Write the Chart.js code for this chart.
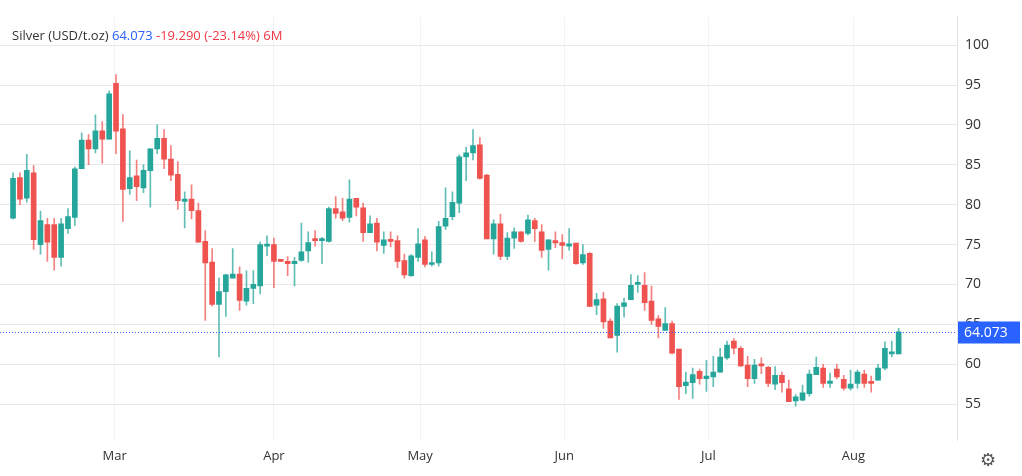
<!DOCTYPE html>
<html>
<head>
<meta charset="utf-8">
<script src="https://cdn.jsdelivr.net/npm/chart.js@4"></script>
<style>
  html, body { margin: 0; padding: 0; background: #fff; }
  #wrap { position: relative; width: 1022px; height: 476px; }
  #title { position: absolute; left: 12px; top: 26px; font: 13px "Open Sans", sans-serif; color: #333; }
  #title .up { color: #2962ff; }
  #title .dn { color: #f23645; }
  #gear { position: absolute; left: 980px; top: 449px; font: 18px "DejaVu Sans"; color: #555; }
</style>
</head>
<body>
<div id="wrap">
  <canvas id="chart" width="1022" height="476"></canvas>
  <div id="title">Silver (USD/t.oz) <span class="up">64.073</span> <span class="dn">-19.290 (-23.14%) 6M</span></div>
  <div id="gear">⚙</div>
</div>
<script>
// candles (open, high, low, close)
const opens = [78.3,83.4,80.8,84.0,75.0,77.5,77.5,73.4,77.0,78.4,84.5,88.1,87.0,89.25,88.2,95.2,89.5,82.0,83.6,82.1,
  84.25,87.0,88.3,85.7,83.8,80.4,80.7,79.25,75.4,72.8,67.5,69.1,70.8,71.3,67.9,69.5,69.8,74.8,75.0,73.0,
  72.9,72.6,73.0,74.2,75.7,75.5,75.4,79.5,79.1,78.4,80.8,79.6,76.5,77.7,74.9,75.5,75.5,73.0,71.1,73.4,
  75.6,72.5,72.7,77.3,78.5,80.2,86.0,86.5,87.5,83.7,75.7,77.6,73.5,75.8,76.6,76.4,78.0,76.6,74.4,75.5,
  75.25,74.8,75.2,72.7,73.9,67.4,68.2,65.4,63.6,67.25,68.1,70.0,69.9,67.9,65.7,64.25,65.1,61.9,57.3,57.7,
  59.1,58.2,58.4,59.0,60.8,62.9,62.0,59.9,58.2,59.9,59.6,57.5,58.6,56.9,55.4,55.5,56.3,58.7,59.5,57.6,
  59.4,58.1,57.0,57.6,58.75,57.7,58.0,59.5,61.3,61.3];
const highs = [84.0,84.0,86.3,84.9,79.2,78.3,78.3,78.3,79.5,84.7,89.0,88.8,91.25,90.4,94.25,96.3,91.3,86.75,85.6,85.0,
  87.0,90.0,89.4,87.4,85.4,81.6,82.5,80.2,76.75,74.5,70.8,71.3,74.5,72.2,71.7,71.75,75.3,76.1,75.8,73.0,
  73.5,73.4,77.7,76.6,76.75,75.9,79.7,81.0,80.8,83.1,80.8,80.2,78.6,78.3,76.6,76.6,76.1,73.8,73.75,77.0,
  76.0,74.1,77.9,82.1,81.6,86.25,87.2,89.4,88.4,83.8,78.1,78.8,76.5,77.1,76.6,78.7,78.3,77.5,75.6,76.6,
  76.25,77.0,75.2,75.0,74.0,68.9,69.0,65.7,67.6,68.3,71.25,71.1,71.5,69.8,66.1,67.1,65.4,61.9,59.0,59.5,
  59.4,60.5,61.0,62.0,62.9,63.2,62.2,61.0,60.6,60.8,59.75,59.7,59.0,58.0,56.2,57.4,59.25,60.9,60.0,58.9,
  60.0,58.6,59.25,59.25,59.25,58.5,60.0,62.8,62.9,64.5];
const lows = [78.2,80.0,80.3,74.4,73.8,72.9,71.8,72.3,76.4,77.4,84.5,85.0,86.5,85.2,88.2,86.4,77.9,81.3,80.5,81.5,
  79.7,86.4,84.5,83.0,79.4,77.1,78.2,75.3,65.5,67.3,60.9,66.0,70.8,66.75,67.4,67.6,68.8,73.6,69.6,72.9,
  71.1,69.8,72.9,72.8,74.8,72.6,75.3,78.3,78.0,77.8,78.6,75.4,76.5,74.2,73.9,74.7,72.1,70.8,71.0,72.9,
  72.2,72.3,72.3,76.9,78.1,79.0,83.0,85.6,83.2,75.7,73.8,73.1,73.1,74.5,75.3,76.2,75.4,73.4,71.8,74.6,
  73.2,74.3,72.5,72.5,67.25,66.2,64.5,63.3,61.5,65.9,68.1,69.0,66.75,65.0,63.3,64.25,61.3,55.6,56.3,55.7,
  57.5,56.6,57.2,59.0,60.6,61.3,59.7,57.2,57.6,58.8,57.2,56.8,56.5,55.3,54.75,55.4,56.0,58.7,57.1,57.1,
  58.2,56.75,56.75,57.0,57.1,56.5,58.0,59.3,60.9,61.3];
const closes = [83.3,80.7,84.3,75.6,78.0,75.3,73.4,77.6,78.5,84.5,88.1,87.0,89.25,88.2,93.9,89.2,81.9,83.4,82.25,84.3,
  87.0,88.3,85.7,83.7,80.5,80.7,79.25,75.3,72.7,67.5,69.1,71.2,71.3,68.0,69.5,70.0,75.0,75.0,72.9,72.9,
  72.6,72.9,74.1,75.25,75.5,75.5,79.5,78.9,78.3,80.7,79.7,76.5,77.6,75.3,75.6,75.4,72.9,71.2,73.6,75.1,
  72.5,72.75,77.25,78.3,80.3,86.0,86.5,87.4,83.3,75.7,77.6,73.5,75.8,76.6,75.4,78.1,77.0,74.25,75.6,75.2,
  74.9,75.1,72.6,73.75,67.25,68.1,65.3,63.3,67.3,67.7,69.9,70.05,67.7,65.5,64.75,65.1,61.4,57.2,57.75,58.7,
  58.2,58.5,59.0,60.9,62.4,62.0,59.8,58.2,59.9,59.8,57.6,58.6,57.7,55.3,55.9,56.4,58.75,59.6,57.6,57.9,
  58.4,57.0,57.5,59.0,57.6,57.6,59.5,62.0,61.5,64.073];
const lastPrice = 64.073;

// x axis: month labels at candle-index positions
const monthLabels = ['Mar', 'Apr', 'May', 'Jun', 'Jul', 'Aug'];
const monthPositions = [14.8, 38, 59.3, 80.3, 101.3, 122.4];
const priceTicks = [55, 60, 65, 70, 75, 80, 85, 90, 95, 100];

const green = '#26a69a', red = '#ef5350';
const idx = opens.map((_, i) => i);
const isUp = i => closes[i] >= opens[i];

const bodies = idx.map(i => ({ x: i, y: [opens[i], closes[i]] }));
const wicks = idx.map(i => ({ x: i, y: [lows[i], highs[i]] }));
const colors = idx.map(i => isUp(i) ? green : red);

// dotted last-price line with label box on the right axis
const priceLine = {
  id: 'priceLine',
  afterDatasetsDraw(chart) {
    const { ctx, chartArea, scales } = chart;
    const y = Math.round(scales.y.getPixelForValue(lastPrice)) + 0.5;
    ctx.save();
    ctx.strokeStyle = '#2962ff';
    ctx.lineWidth = 1;
    ctx.setLineDash([1, 2]);
    ctx.beginPath();
    ctx.moveTo(chartArea.left, y);
    ctx.lineTo(chartArea.right, y);
    ctx.stroke();
    ctx.setLineDash([]);
    ctx.fillStyle = '#2962ff';
    ctx.fillRect(chartArea.right + 1, y - 11, 62, 22);
    ctx.fillStyle = '#fff';
    ctx.font = '14px "Open Sans", sans-serif';
    ctx.textBaseline = 'middle';
    ctx.fillText(lastPrice.toFixed(3), chartArea.right + 7, y + 1);
    ctx.restore();
  }
};

new Chart(document.getElementById('chart'), {
  type: 'bar',
  data: {
    datasets: [
      {
        label: 'wick',
        data: wicks,
        backgroundColor: colors.map(c => c + 'bb'),
        barThickness: 1,
        grouped: false,
        order: 2
      },
      {
        label: 'body',
        data: bodies,
        backgroundColor: colors,
        barThickness: 5,
        minBarLength: 2,
        grouped: false,
        order: 1
      }
    ]
  },
  options: {
    responsive: false,
    animation: false,
    layout: { padding: { left: 0, right: 0, top: 0, bottom: 0 } },
    plugins: { legend: { display: false }, tooltip: { enabled: false } },
    scales: {
      x: {
        type: 'linear',
        offset: false,
        min: -1.9,
        max: 137.5,
        afterBuildTicks(axis) { axis.ticks = monthPositions.map(v => ({ value: v })); },
        afterFit(axis) { axis.height = 36; },
        ticks: {
          callback: (v, i) => monthLabels[i],
          color: '#333',
          font: { size: 13, family: '"Open Sans", sans-serif' },
          maxRotation: 0,
          padding: 8
        },
        grid: { color: '#f1f3f6', drawTicks: false, offset: false },
        border: { display: false }
      },
      y: {
        position: 'right',
        min: 50.5,
        max: 103.6,
        afterBuildTicks(axis) { axis.ticks = priceTicks.map(v => ({ value: v })); },
        afterFit(axis) { axis.width = 65; },
        ticks: {
          color: '#333',
          font: { size: 14, family: '"Open Sans", sans-serif' },
          padding: 8
        },
        grid: { color: '#e9e9ec', drawTicks: false },
        border: { display: true, color: '#e0e3eb' }
      }
    }
  },
  plugins: [priceLine]
});
</script>
</body>
</html>
